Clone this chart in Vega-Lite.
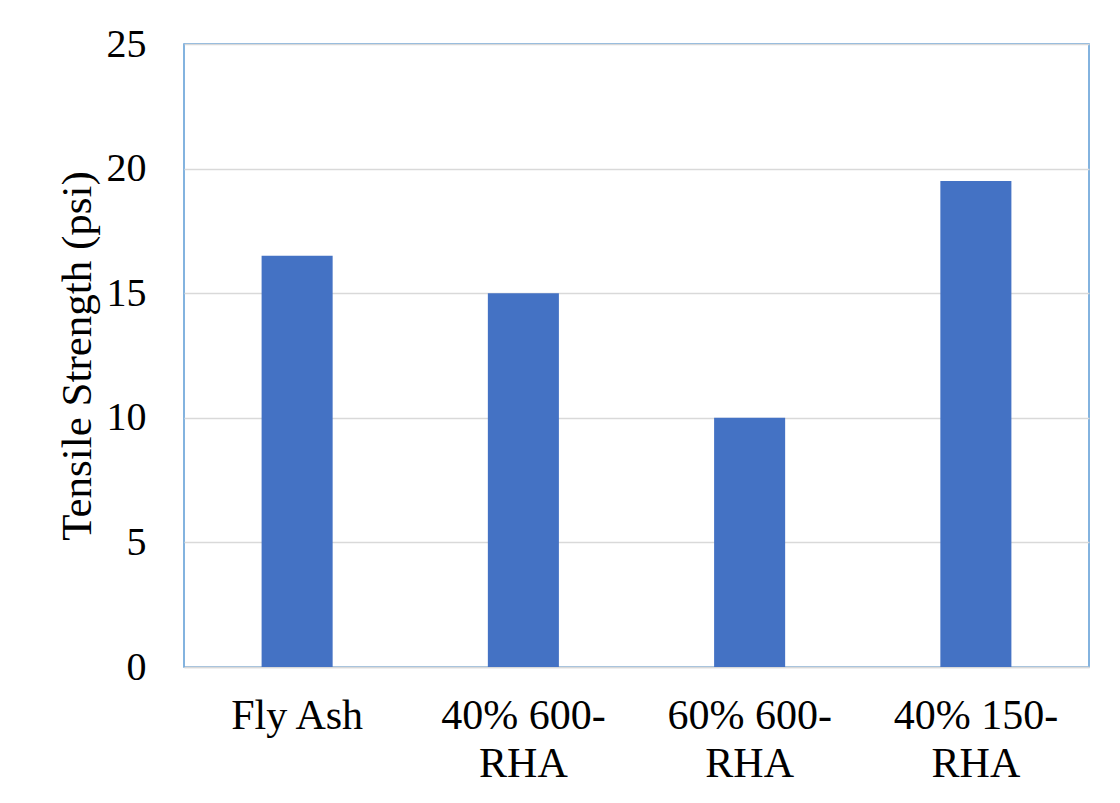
{
  "$schema": "https://vega.github.io/schema/vega-lite/v6.json",
  "width": 905,
  "height": 623,
  "autosize": {"type": "none"},
  "padding": {"left": 184, "top": 44, "right": 31, "bottom": 136},
  "background": "white",
  "data": {
    "values": [
      {"mix": "Fly Ash", "strength": 16.5},
      {"mix": "40% 600-\nRHA", "strength": 15},
      {"mix": "60% 600-\nRHA", "strength": 10},
      {"mix": "40% 150-\nRHA", "strength": 19.5}
    ]
  },
  "mark": {"type": "bar", "color": "#4472c4"},
  "encoding": {
    "x": {
      "field": "mix",
      "type": "nominal",
      "sort": null,
      "scale": {"paddingInner": 0.686, "paddingOuter": 0.343},
      "axis": {
        "title": null,
        "labelAngle": 0,
        "labelExpr": "split(datum.label, '\\n')",
        "labelFontSize": 42,
        "labelLineHeight": 48,
        "labelPadding": 28,
        "ticks": false,
        "domainColor": "#d9d9d9",
        "domainWidth": 1.5
      }
    },
    "y": {
      "field": "strength",
      "type": "quantitative",
      "scale": {"domain": [0, 25], "nice": false},
      "axis": {
        "title": "Tensile Strength (psi)",
        "titleFontSize": 43,
        "values": [0, 5, 10, 15, 20, 25],
        "domain": false,
        "ticks": false,
        "labelPadding": 38,
        "titlePadding": 7,
        "gridColor": "#d9d9d9",
        "gridWidth": 1.5
      }
    }
  },
  "config": {
    "font": "Liberation Serif",
    "view": {"stroke": "#5b9bd5", "strokeWidth": 1.5},
    "axis": {
      "labelFont": "Liberation Serif",
      "labelFontSize": 40,
      "labelColor": "#000000",
      "titleFont": "Liberation Serif",
      "titleFontWeight": "normal",
      "titleColor": "#000000",
      "labelOverlap": false,
      "labelFlush": false
    }
  }
}
